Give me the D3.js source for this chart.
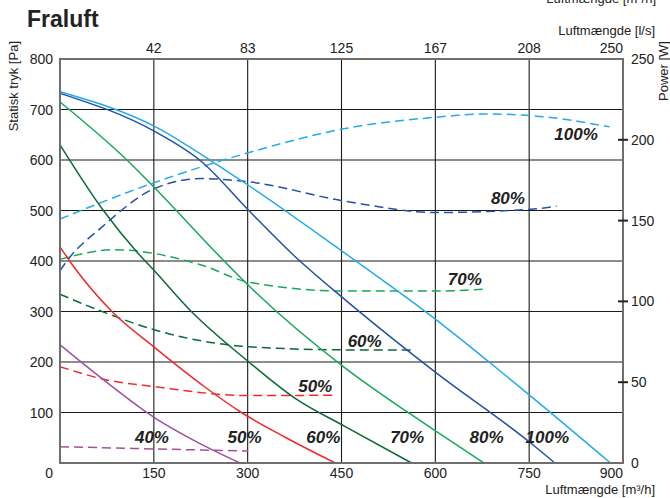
<!DOCTYPE html>
<html><head><meta charset="utf-8">
<script src="https://cdn.jsdelivr.net/npm/d3@7"></script>
<style>
html,body{margin:0;padding:0;background:#fff;}
svg{display:block;font-family:"Liberation Sans",Arial,sans-serif;}
</style></head>
<body><svg id="chart" width="670" height="498"></svg>
<script>
// ---- data ----
const flowTicks = [150, 300, 450, 600, 750, 900];           // m3/h
const flowTickLabels = ["150", "300", "450", "600", "750", "900"];
const lsTickLabels = ["42", "83", "125", "167", "208", "250"]; // l/s
const pressureTicks = [0, 100, 200, 300, 400, 500, 600, 700, 800];
const powerTicks = [0, 50, 100, 150, 200, 250];

const speeds = ["100%", "80%", "70%", "60%", "50%", "40%"];
const colors = ["#22aaea", "#2152a3", "#19a85a", "#0c6a33", "#ee2b2b", "#a24ea3"];

// static pressure curves [flow m3/h, Pa]
const p100 = [[0,735],[152,666],[242,598],[301,550],[456,415],[602,283],[685,201],[752,133],[880,0]];
const p80  = [[0,732],[152,656],[226,597],[301,501],[373,412],[456,323],[602,178],[750,42],[791,0]];
const p70  = [[0,715],[107,600],[152,544],[253,412],[301,352],[456,188],[554,102],[602,62],[678,0]];
const p60  = [[0,630],[67,504],[125,415],[152,379],[210,300],[301,201],[376,128],[456,72],[562,0]];
const p50  = [[0,428],[20,392],[83,300],[152,228],[230,152],[290,100],[360,51],[440,0]];
const p40  = [[0,234],[56,178],[152,89],[220,41],[288,0]];

// power curves [flow m3/h, W]
const w100 = [[0,151],[147,173],[301,192],[456,207],[602,214],[679,216],[752,215],[879,208]];
const w80  = [[0,119],[13,126],[67,146],[152,170],[226,176],[301,174],[456,162],[602,155],[752,157],[794,159]];
const w70  = [[0,126],[88,132],[226,122.5],[301,112],[456,106.4],[602,106.4],[676,107.5]];
const w60  = [[0,104.4],[75,92.6],[152,82.3],[301,72],[456,70],[562,70]];
const w50  = [[0,59.6],[75,51.4],[152,47.2],[301,41.7],[440,42]];
const w40  = [[0,10.1],[152,8.7],[301,7.4]];

// label anchors in data units
const pressLabelFlow = [779, 682, 555, 421, 295, 147];   // at 40 Pa
const pressLabelValue = 40;
const powerLabelFlow = [825, 716, 647, 487, 408];
const powerLabelValue = [200, 160, 110.4, 71.8, 44.2];

const pressureSeries = [p100, p80, p70, p60, p50, p40];
const powerSeries = [w100, w80, w70, w60, w50, w40];

// ---- drawing ----
const svg = d3.select("#chart");
const L = 60, R = 623, T = 59, B = 463;
const x = d3.scaleLinear().domain([0, 900]).range([L, R]);
const y = d3.scaleLinear().domain([0, 800]).range([B, T]);
const yW = d3.scaleLinear().domain([0, 250]).range([B, T]);
const ink = "#222";

// grid
const grid = svg.append("g");
flowTicks.slice(0, -1).forEach(v => {
  grid.append("line").attr("x1", x(v)).attr("x2", x(v)).attr("y1", T).attr("y2", B)
    .attr("stroke", "#1a1a1a").attr("stroke-width", 1.1);
});
pressureTicks.slice(1, -1).forEach(v => {
  grid.append("line").attr("x1", L).attr("x2", R).attr("y1", y(v)).attr("y2", y(v))
    .attr("stroke", "#1a1a1a").attr("stroke-width", 1.1);
});

// curves
const lineP = d3.line().x(d => x(d[0])).y(d => y(d[1])).curve(d3.curveMonotoneX);
const lineW = d3.line().x(d => x(d[0])).y(d => yW(d[1])).curve(d3.curveMonotoneX);
powerSeries.forEach((s, i) => {
  svg.append("path").attr("d", lineW(s)).attr("fill", "none")
    .attr("stroke", colors[i]).attr("stroke-width", 1.5).attr("stroke-dasharray", "9,5");
});
pressureSeries.forEach((s, i) => {
  svg.append("path").attr("d", lineP(s)).attr("fill", "none")
    .attr("stroke", colors[i]).attr("stroke-width", 1.5);
});

// frame
svg.append("rect").attr("x", L).attr("y", T).attr("width", R - L).attr("height", B - T)
  .attr("fill", "none").attr("stroke", "#6e6e6e").attr("stroke-width", 2);

// right axis ticks
powerTicks.slice(1, -1).forEach(v => {
  svg.append("line").attr("x1", R - 5).attr("x2", R + 5).attr("y1", yW(v)).attr("y2", yW(v))
    .attr("stroke", ink).attr("stroke-width", 2);
});

const txt = (xx, yy, s, opt = {}) => svg.append("text").attr("x", xx).attr("y", yy).text(s)
  .attr("font-size", opt.size || 14).attr("fill", opt.fill || ink)
  .attr("text-anchor", opt.anchor || "start")
  .attr("font-weight", opt.weight || "normal").attr("font-style", opt.style || "normal");

// left axis labels
pressureTicks.forEach(v => {
  txt(53, (v === 0 ? y(v) + 10 : y(v)) + 5, String(v), {anchor: "end"});
});
// bottom axis labels
flowTicks.forEach((v, i) => {
  const last = i === flowTicks.length - 1;
  txt(last ? R : x(v), 478, flowTickLabels[i], {anchor: last ? "end" : "middle"});
});
// top axis labels
flowTicks.forEach((v, i) => {
  const last = i === flowTicks.length - 1;
  txt(last ? R : x(v), 52.5, lsTickLabels[i], {anchor: last ? "end" : "middle"});
});
// right axis labels
powerTicks.forEach(v => {
  txt(631, yW(v) + 5, String(v));
});

// titles
txt(27, 27, "Fraluft", {size: 23, weight: "bold"});
txt(655, 494, "Luftmængde [m³/h]", {size: 13, anchor: "end"});
txt(655, 35, "Luftmængde [l/s]", {size: 13, anchor: "end"});
txt(656, 3, "Luftmængde [m³/h]", {size: 13, anchor: "end"});
svg.append("text").attr("transform", "translate(18,41) rotate(-90)").attr("text-anchor", "end")
  .attr("font-size", 13).attr("fill", ink).text("Statisk tryk [Pa]");
svg.append("text").attr("transform", "translate(668,41) rotate(-90)").attr("text-anchor", "end")
  .attr("font-size", 13).attr("fill", ink).text("Power [W]");

// curve labels
speeds.forEach((s, i) => {
  txt(x(pressLabelFlow[i]), y(pressLabelValue), s, {size: 17, weight: "bold", style: "italic", anchor: "middle"});
});
powerLabelFlow.forEach((f, i) => {
  txt(x(f), yW(powerLabelValue[i]), speeds[i], {size: 17, weight: "bold", style: "italic", anchor: "middle"});
});
</script>
</body></html>
